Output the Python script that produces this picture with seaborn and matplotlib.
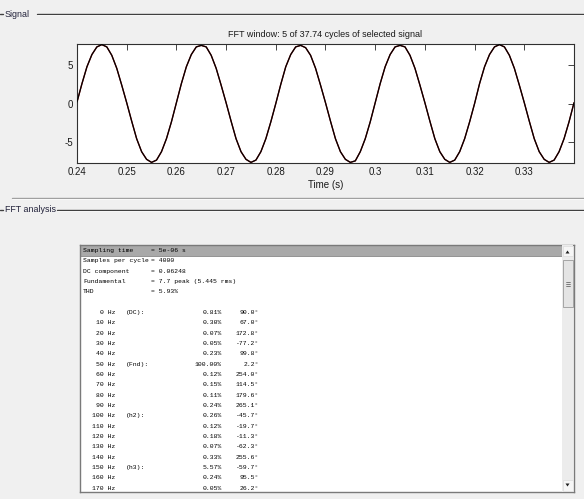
import numpy as np
import pandas as pd
import matplotlib
matplotlib.use("Agg")
import matplotlib.pyplot as plt
import seaborn as sns
from matplotlib.patches import Rectangle, Polygon

# ---------------- data ----------------
t_start, t_step = 0.240, 0.001
signal_values = [
    0.2, 2.6, 4.8, 6.4, 7.4, 7.7, 7.4, 6.3, 4.6, 2.4,
    0.1, -2.3, -4.6, -6.3, -7.3, -7.7, -7.4, -6.3, -4.6, -2.4,
    0.1, 2.6, 4.8, 6.4, 7.4, 7.6, 7.4, 6.3, 4.6, 2.4,
    0.1, -2.3, -4.6, -6.3, -7.3, -7.7, -7.4, -6.3, -4.6, -2.4,
    0.0, 2.5, 4.8, 6.4, 7.4, 7.6, 7.3, 6.3, 4.6, 2.4,
    0.1, -2.3, -4.6, -6.3, -7.3, -7.7, -7.5, -6.3, -4.6, -2.4,
    0.1, 2.6, 4.8, 6.4, 7.4, 7.6, 7.4, 6.3, 4.6, 2.4,
    0.1, -2.3, -4.6, -6.3, -7.3, -7.7, -7.4, -6.3, -4.6, -2.4,
    0.0, 2.6, 4.8, 6.4, 7.4, 7.7, 7.4, 6.3, 4.6, 2.4,
    0.1, -2.3, -4.6, -6.3, -7.3, -7.7, -7.4, -6.3, -4.6, -2.4,
    0.1,
]
x_ticks = [0.24, 0.25, 0.26, 0.27, 0.28, 0.29, 0.30, 0.31, 0.32, 0.33]
x_tick_labels = ["0.24", "0.25", "0.26", "0.27", "0.28", "0.29", "0.3", "0.31", "0.32", "0.33"]
y_ticks = [-5, 0, 5]

title_text = "FFT window: 5 of 37.74 cycles of selected signal"
xlabel_text = "Time (s)"

summary_names = ["Sampling time", "Samples per cycle", "DC component", "Fundamental", "THD"]
summary_values = ["= 5e-06 s", "= 4000", "= 0.06248", "= 7.7 peak (5.445 rms)", "= 5.93%"]

freqs = [0, 10, 20, 30, 40, 50, 60, 70, 80, 90, 100, 110, 120, 130, 140, 150, 160, 170]
tags = ["(DC):", "", "", "", "", "(Fnd):", "", "", "", "", "(h2):", "", "", "", "", "(h3):", "", ""]
mag_pct = [0.81, 0.30, 0.07, 0.05, 0.23, 100.00, 0.12, 0.15, 0.11, 0.24,
           0.26, 0.12, 0.18, 0.07, 0.33, 5.57, 0.24, 0.05]
phase_deg = [90.0, 67.0, 172.8, -77.2, 99.8, 2.2, 254.0, 114.5, 179.6, 265.1,
             -45.7, -19.7, -11.3, -62.3, 255.6, -59.7, 95.5, 26.2]

# ---------------- style ----------------
sns.set_theme(style="white")
plt.rcParams["font.family"] = ["Liberation Sans Narrow", "Liberation Sans", "DejaVu Sans"]
plt.rcParams["axes.unicode_minus"] = False
W, H = 584, 499
BG = "#f0f0f0"

fig = plt.figure(figsize=(W / 100, H / 100), dpi=100, facecolor=BG)

def fx(px):
    return px / W

def fy(py):
    return 1 - py / H

# overlay axes in pixel coordinates (panel frames & labels)
ov = fig.add_axes([0, 0, 1, 1], zorder=0)
ov.set_xlim(0, W)
ov.set_ylim(H, 0)
ov.axis("off")
ov.patch.set_visible(False)

panel_col = "#22223a"
ov.plot([0, 3], [14, 14], color="#404040", lw=1.0)
ov.text(5, 14, "Signal", fontsize=6.4, color=panel_col, va="center", ha="left")
ov.plot([37, W], [14, 14], color="#404040", lw=1.0)
ov.plot([37, W], [15.2, 15.2], color="white", lw=0.6)
ov.plot([12, W], [198, 198], color="#a0a0a0", lw=1.0)
ov.plot([12, W], [199.2, 199.2], color="white", lw=0.6)
ov.plot([0, 3], [210, 210], color="#404040", lw=1.0)
ov.text(5, 210, "FFT analysis", fontsize=6.4, color=panel_col, va="center", ha="left")
ov.plot([57, W], [210, 210], color="#404040", lw=1.0)
ov.plot([57, W], [211.2, 211.2], color="white", lw=0.6)

# ---------------- signal axes ----------------
ax_l, ax_r, ax_t, ax_b = 77, 574, 44, 163
ax = fig.add_axes([fx(ax_l), fy(ax_b), fx(ax_r - ax_l), (ax_b - ax_t) / H], zorder=2)
ax.set_facecolor("white")

time = np.round(t_start + t_step * np.arange(len(signal_values)), 4)
df = pd.DataFrame({"time": time, "value": signal_values})
sns.lineplot(data=df, x="time", y="value", ax=ax, color="#8b1010", lw=1.0, zorder=2)
sns.lineplot(data=df, x="time", y="value", ax=ax, color="black", lw=0.85, zorder=3)

ax.set_xlim(0.24, 0.34)
ax.set_ylim(-7.78, 7.78)
ax.set_xticks(x_ticks)
ax.set_xticklabels(x_tick_labels)
ax.set_yticks(y_ticks)
ax.tick_params(direction="in", length=4, width=0.6, top=True, right=True,
               labelsize=7, pad=3, colors="#262626", labelcolor="#1a1a1a")
ax.set_xlabel(xlabel_text, fontsize=7, color="#1a1a1a", labelpad=2)
ax.set_ylabel("")
ax.set_title(title_text, fontsize=6.5, color="#1a1a1a", pad=5)
for s in ax.spines.values():
    s.set_color("#303030")
    s.set_linewidth(0.8)

# ---------------- listbox ----------------
bl, br, bt, bb = 80, 574, 245, 492
box = fig.add_axes([fx(bl), fy(bb), fx(br - bl), (bb - bt) / H], zorder=2)
box.set_xlim(bl, br)
box.set_ylim(bb, bt)
box.set_facecolor("white")
box.set_xticks([])
box.set_yticks([])
for s in box.spines.values():
    s.set_color("#7a7a7a")
    s.set_linewidth(1.0)

# highlighted first row
box.add_patch(Rectangle((bl, bt), 562 - bl, 11, facecolor="#a9a9a9", edgecolor="#8a8a8a", lw=0.6, zorder=1))

mono = ["Liberation Mono", "DejaVu Sans Mono"]
fs = 4.6
row0, dy = 250.5, 10.33
x_name, x_val = 83, 151
for i, (n, v) in enumerate(zip(summary_names, summary_values)):
    y = row0 + i * dy
    box.text(x_name, y, n, family=mono, fontsize=fs, va="center", ha="left", color="black", zorder=3)
    box.text(x_val, y, v, family=mono, fontsize=fs, va="center", ha="left", color="black", zorder=3)

x_hz, x_tag, x_pct, x_ph = 115, 126, 222, 259
for j, (f, tg, m, p) in enumerate(zip(freqs, tags, mag_pct, phase_deg)):
    y = row0 + (j + 6) * dy
    box.text(x_hz, y, f"{f} Hz", family=mono, fontsize=fs, va="center", ha="right", color="black", zorder=3)
    if tg:
        box.text(x_tag, y, tg, family=mono, fontsize=fs, va="center", ha="left", color="black", zorder=3)
    box.text(x_pct, y, f"{m:.2f}%", family=mono, fontsize=fs, va="center", ha="right", color="black", zorder=3)
    box.text(x_ph, y, f"{p:.1f}\u00b0", family=mono, fontsize=fs, va="center", ha="right", color="black", zorder=3)

# scrollbar
sx0, sx1 = 562, 573
box.add_patch(Rectangle((sx0, bt), sx1 - sx0, bb - bt, facecolor="#ececec", edgecolor="none", zorder=4))
box.add_patch(Rectangle((sx0 + 0.5, 246), sx1 - sx0 - 1, 10, facecolor="#f6f6f6", edgecolor="#dcdcdc", lw=0.5, zorder=5))
box.add_patch(Polygon([[565.5, 253.5], [569.5, 253.5], [567.5, 250.5]], closed=True, facecolor="#202020", edgecolor="none", zorder=6))
box.add_patch(Rectangle((sx0 + 0.5, 260), sx1 - sx0 - 1, 47, facecolor="#e4e4e4", edgecolor="#9a9a9a", lw=0.6, zorder=5))
for gy in (281.5, 283.5, 285.5):
    box.plot([565.5, 569.5], [gy, gy], color="#505050", lw=0.5, zorder=6)
box.add_patch(Rectangle((sx0 + 0.5, 480), sx1 - sx0 - 1, 10.5, facecolor="#f6f6f6", edgecolor="#dcdcdc", lw=0.5, zorder=5))
box.add_patch(Polygon([[565.5, 483.5], [569.5, 483.5], [567.5, 486.5]], closed=True, facecolor="#202020", edgecolor="none", zorder=6))

fig.savefig("out.png", dpi=100, facecolor=BG)
